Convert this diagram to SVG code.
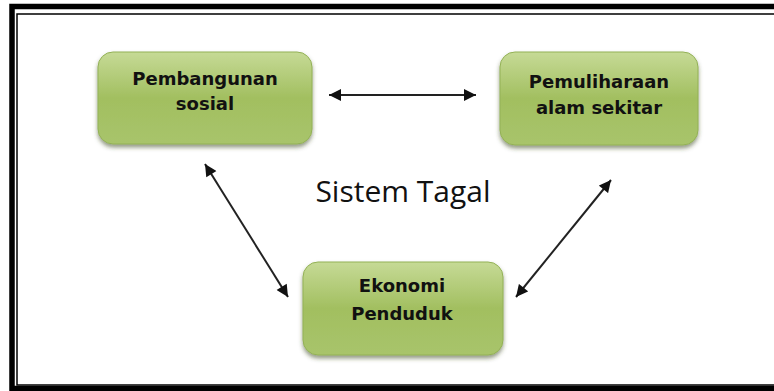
<svg xmlns="http://www.w3.org/2000/svg" width="774" height="391" viewBox="0 0 774 391">
<defs>
<linearGradient id="g" x1="0" y1="0" x2="0" y2="1">
<stop offset="0" stop-color="#c6da96"/>
<stop offset="0.5" stop-color="#a2bf60"/>
<stop offset="1" stop-color="#a8c46b"/>
</linearGradient>
<filter id="sh" x="-10%" y="-10%" width="120%" height="130%">
<feDropShadow dx="0" dy="3" stdDeviation="2" flood-color="#3a4a1a" flood-opacity="0.55"/>
</filter>
<marker id="ah" viewBox="0 0 10 10" refX="10" refY="5" markerWidth="6.5" markerHeight="6" orient="auto-start-reverse" markerUnits="strokeWidth">
<path d="M0,0 L10,5 L0,10 z" fill="#111"/>
</marker>
<style>
.box{fill:url(#g);stroke:#93b156;stroke-width:1;filter:url(#sh)}
.lbl{font-family:"DejaVu Sans",sans-serif;font-weight:bold;font-size:18px;fill:#111;text-anchor:middle}
.conn line{stroke:#222;stroke-width:2;marker-start:url(#ah);marker-end:url(#ah)}
</style>
</defs>
<rect width="774" height="391" fill="#fff"/>
<rect x="12" y="6.5" width="780" height="382" fill="none" stroke="#000" stroke-width="5.5"/>
<rect x="17" y="14" width="770" height="371" fill="none" stroke="#000" stroke-width="1.5"/>
<g id="n1">
<rect class="box" x="98" y="52" width="214" height="92" rx="15"/>
<text class="lbl" x="205" y="85">Pembangunan</text>
<text class="lbl" x="205" y="110">sosial</text>
</g>
<g id="n2">
<rect class="box" x="500" y="52" width="198" height="93" rx="15"/>
<text class="lbl" x="599" y="88">Pemuliharaan</text>
<text class="lbl" x="599" y="114">alam sekitar</text>
</g>
<g id="n3">
<rect class="box" x="303" y="262" width="200" height="93" rx="15"/>
<text class="lbl" x="402" y="292">Ekonomi</text>
<text class="lbl" x="402" y="320">Penduduk</text>
</g>
<text x="403" y="202" font-family="'Open Sans',sans-serif" font-size="30" fill="#111" text-anchor="middle">Sistem Tagal</text>
<g id="connectors" class="conn">
<line x1="329" y1="95" x2="476" y2="95"/>
<line x1="205" y1="164" x2="288" y2="297"/>
<line x1="611" y1="180" x2="516" y2="297"/>
</g>
</svg>
